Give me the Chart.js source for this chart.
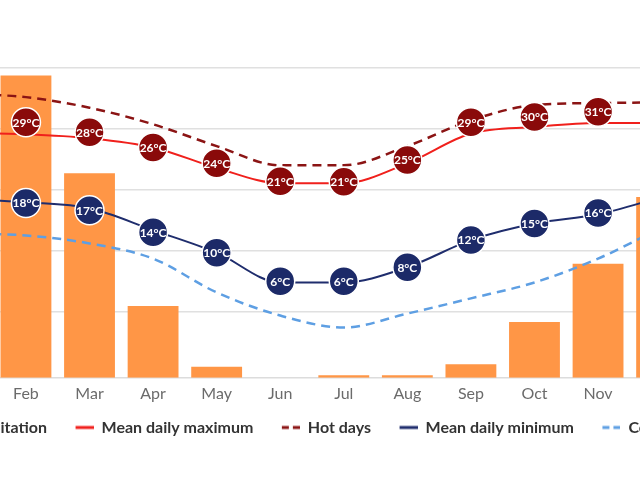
<!DOCTYPE html>
<html><head><meta charset="utf-8">
<script src="https://cdn.jsdelivr.net/npm/chart.js@4.4.1/dist/chart.umd.min.js"></script>
<style>
html,body{margin:0;padding:0;width:640px;height:480px;overflow:hidden;background:#fff;}
#wrap{position:absolute;left:-140px;top:0;width:900px;height:480px;}
</style></head><body>
<div id="wrap"><canvas id="c"></canvas></div>
<script>
const months = ['Jan','Feb','Mar','Apr','May','Jun','Jul','Aug','Sep','Oct','Nov','Dec'];
const precipitation = [235, 244, 165, 58, 9, 0, 2, 2, 11, 45, 92, 146];
const meanMax = [28.6, 28.4, 27.8, 26.4, 23.3, 21.0, 21.0, 24.0, 28.5, 29.5, 30.1, 30.1];
const hotDays = [34.5, 34.0, 32.4, 29.9, 26.6, 23.7, 23.7, 26.6, 30.5, 32.8, 33.1, 33.2];
const meanMin = [18.6, 18.1, 17.2, 13.9, 10.5, 6.0, 6.0, 8.3, 12.4, 14.9, 16.3, 18.9];
const coldNights = [13.4, 13.1, 11.9, 9.6, 4.5, 1.0, -0.8, 1.3, 3.6, 6.0, 9.6, 14.3];
const maxMarkers = [30.0, 30.2, 28.7, 26.4, 24.0, 21.3, 21.2, 24.5, 30.2, 31.0, 31.8, 31.0];
const maxLabels = [29, 29, 28, 26, 24, 21, 21, 25, 29, 30, 31, 30];
const minMarkers = [18.5, 18.0, 16.9, 13.6, 10.5, 6.2, 6.2, 8.3, 12.4, 14.9, 16.5, 18.5];
const minLabels = [18, 18, 17, 14, 10, 6, 6, 8, 12, 15, 16, 18];
const gridTicks = [0, 1, 2, 3, 4];

function legendIcon(ds) {
  const c = document.createElement('canvas');
  c.width = 36; c.height = 14;
  const g = c.getContext('2d');
  if (ds.type === 'bar') {
    g.fillStyle = ds.backgroundColor; g.fillRect(20, 0, 14, 14);
  } else {
    g.strokeStyle = ds.borderColor; g.lineWidth = 3;
    g.setLineDash(ds.borderDash ? [7, 4] : []);
    g.beginPath(); g.moveTo(18, 7); g.lineTo(36, 7); g.stroke();
  }
  return c;
}

const markerText = {
  id: 'markerText',
  afterDatasetsDraw(chart) {
    const ctx = chart.ctx;
    ctx.save();
    ctx.font = 'bold 12px Lato';
    ctx.fillStyle = '#ffffff';
    ctx.textAlign = 'center';
    ctx.textBaseline = 'middle';
    chart.data.datasets.forEach((ds, i) => {
      if (!ds.markerLabels) return;
      chart.getDatasetMeta(i).data.forEach((pt, j) => {
        ctx.fillText(ds.markerLabels[j] + '°C', pt.x, pt.y + 0.5);
      });
    });
    ctx.restore();
  }
};

new Chart(document.getElementById('c'), {
  data: {
    labels: months,
    datasets: [
      { type: 'bar', label: 'Precipitation', data: precipitation, yAxisID: 'yP',
        backgroundColor: '#ff9646', barPercentage: 0.8, categoryPercentage: 1.0, order: 10 },
      { type: 'line', label: 'Mean daily maximum', data: meanMax, yAxisID: 'yT',
        borderColor: '#f0201c', borderWidth: 2, pointRadius: 0, cubicInterpolationMode: 'monotone', order: 5 },
      { type: 'line', label: 'Hot days', data: hotDays, yAxisID: 'yT',
        borderColor: '#8b1414', borderWidth: 2.5, borderDash: [9, 6], pointRadius: 0, cubicInterpolationMode: 'monotone', order: 5 },
      { type: 'line', label: 'Mean daily minimum', data: meanMin, yAxisID: 'yT',
        borderColor: '#1f2d6d', borderWidth: 2, pointRadius: 0, cubicInterpolationMode: 'monotone', order: 5 },
      { type: 'line', label: 'Cold nights', data: coldNights, yAxisID: 'yT',
        borderColor: '#5e9fe3', borderWidth: 2.5, borderDash: [9, 6], pointRadius: 0, cubicInterpolationMode: 'monotone', order: 5 },
      { type: 'line', label: 'max markers', data: maxMarkers, yAxisID: 'yT', showLine: false, isMarker: true,
        markerLabels: maxLabels, pointRadius: 14.5, pointBackgroundColor: '#8a0a0a', pointBorderColor: '#ffffff',
        pointBorderWidth: 1.5, order: 1 },
      { type: 'line', label: 'min markers', data: minMarkers, yAxisID: 'yT', showLine: false, isMarker: true,
        markerLabels: minLabels, pointRadius: 14.5, pointBackgroundColor: '#1c2a68', pointBorderColor: '#ffffff',
        pointBorderWidth: 1.5, order: 1 }
    ]
  },
  options: {
    responsive: true, maintainAspectRatio: false, animation: false, events: [],
    layout: { padding: { top: 68, bottom: 34.5, left: 0, right: 0 } },
    scales: {
      x: { type: 'category', grid: { display: false, drawTicks: false },
        border: { display: true, color: '#dcdcdc', width: 1.5 },
        ticks: { color: '#6b6b6b', font: { family: 'Lato', size: 16 }, padding: 6, autoSkip: false, maxRotation: 0 } },
      yP: { position: 'left', min: 0, max: 250, grid: { display: false, drawTicks: false },
        border: { display: false }, ticks: { display: false }, afterFit: s => { s.width = 70.6; } },
      yG: { position: 'left', min: -1.075, max: 4, grid: { color: '#e0e0e0', lineWidth: 1.5, drawTicks: false },
        border: { display: false }, ticks: { display: false, stepSize: 1 },
        afterBuildTicks: s => { s.ticks = gridTicks.map(v => ({ value: v })); },
        afterFit: s => { s.width = 0; } },
      yT: { position: 'right', min: -8.4, max: 38.4, grid: { display: false, drawTicks: false },
        border: { display: false }, ticks: { display: false }, afterFit: s => { s.width = 66.6; } }
    },
    plugins: {
      tooltip: { enabled: false },
      legend: {
        position: 'bottom',
        labels: {
          font: { family: 'Lato', size: 16, weight: 'bold' }, color: '#333333',
          usePointStyle: true, pointStyleWidth: 36, padding: 10.5,
          generateLabels(chart) {
            const items = Chart.defaults.plugins.legend.labels.generateLabels(chart);
            return items.filter(it => !chart.data.datasets[it.datasetIndex].isMarker)
              .sort((a, b) => a.datasetIndex - b.datasetIndex)
              .map(it => { it.pointStyle = legendIcon(chart.data.datasets[it.datasetIndex]); return it; });
          }
        }
      }
    }
  },
  plugins: [markerText]
});
</script></body></html>
